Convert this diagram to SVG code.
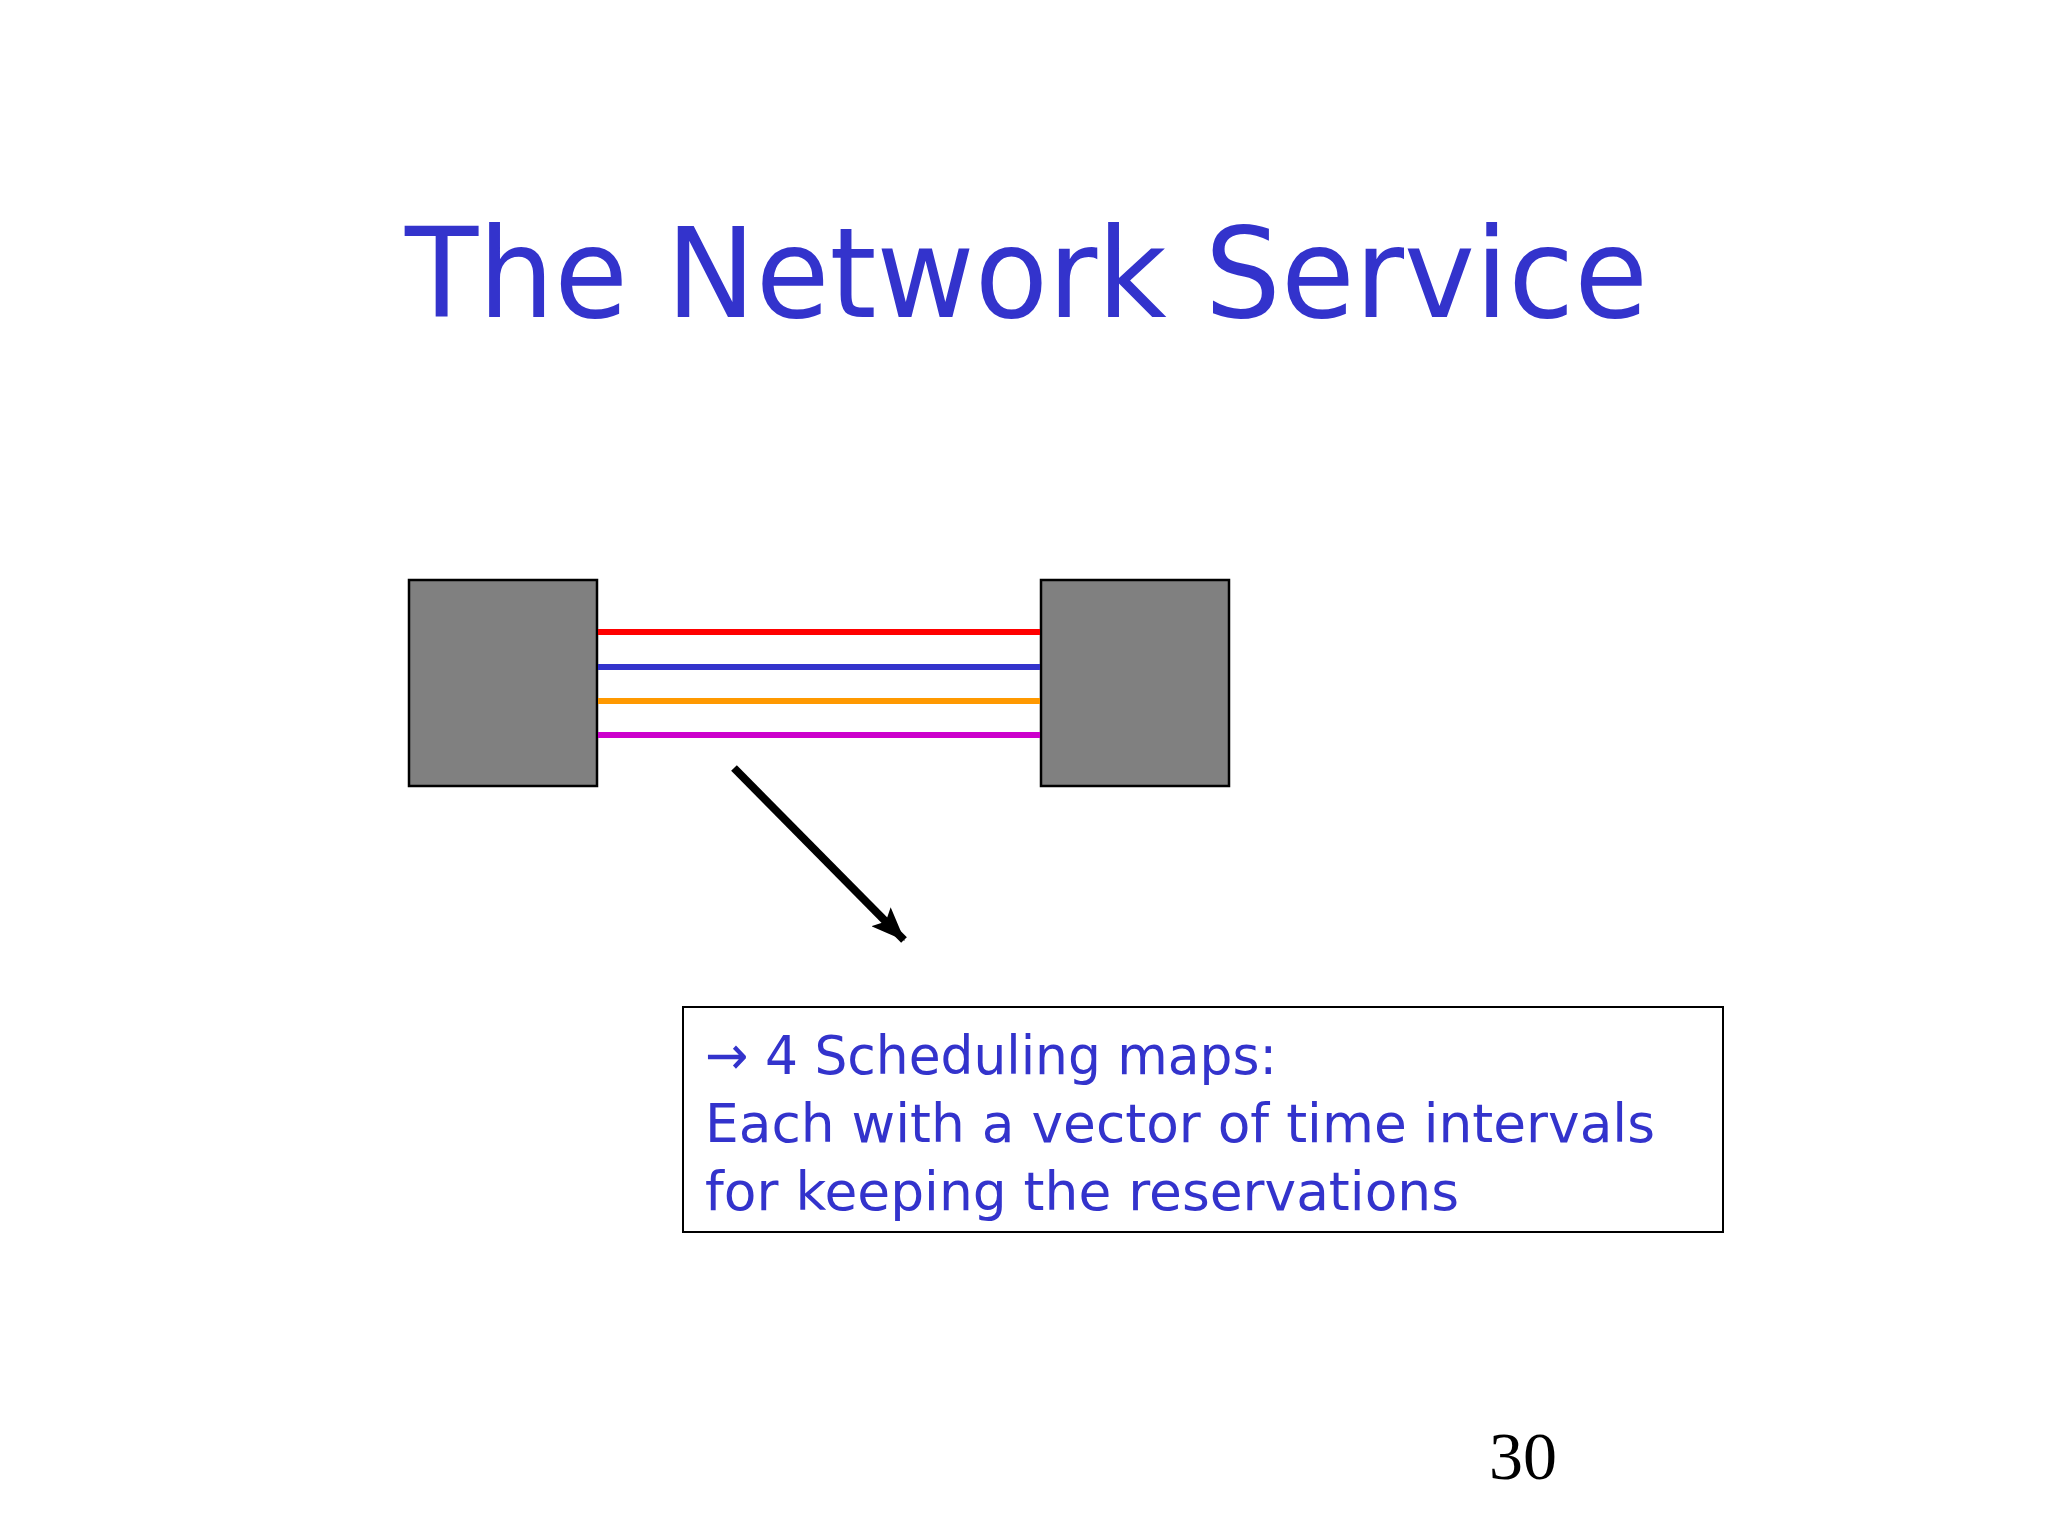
<svg xmlns="http://www.w3.org/2000/svg" width="2048" height="1536" viewBox="0 0 2048 1536">
<style>
.title{font-family:"DejaVu Sans","Liberation Sans",sans-serif;font-size:124px;fill:#3333CC}
.body{font-family:"DejaVu Sans","Liberation Sans",sans-serif;font-size:54px;fill:#3333CC}
.num{font-family:"Liberation Serif",serif;font-size:68px;fill:#000}
.node{fill:#808080;stroke:#000;stroke-width:2.5}
.ch{stroke-width:6;fill:none}
</style>
<defs>
<marker id="ah2" viewBox="0 0 30 24" refX="29" refY="12" markerWidth="34" markerHeight="27" orient="auto" markerUnits="userSpaceOnUse">
<path d="M0,0 L30,12 L0,24 L6,12 z" fill="#000"/>
</marker>
</defs>
<rect width="2048" height="1536" fill="#fff"/>
<text class="title" x="405" y="317" textLength="1243" lengthAdjust="spacingAndGlyphs">The Network Service</text>
<g id="node-left"><rect class="node" x="409" y="580" width="188" height="206"/></g>
<g id="node-right"><rect class="node" x="1041" y="580" width="188" height="206"/></g>
<g id="connectors">
<line class="ch" x1="598" y1="632" x2="1040" y2="632" stroke="#FF0000"/>
<line class="ch" x1="598" y1="667" x2="1040" y2="667" stroke="#3333CC"/>
<line class="ch" x1="598" y1="701" x2="1040" y2="701" stroke="#FF9900"/>
<line class="ch" x1="598" y1="735" x2="1040" y2="735" stroke="#CC00CC"/>
<line x1="734" y1="768" x2="904" y2="940" stroke="#000" stroke-width="8" marker-end="url(#ah2)"/>
</g>
<g id="node-note">
<rect x="683" y="1007" width="1040" height="225" fill="#fff" stroke="#000" stroke-width="2"/>
<text class="body" x="705" y="1074" textLength="572" lengthAdjust="spacingAndGlyphs">→ 4 Scheduling maps:</text>
<text class="body" x="705" y="1142" textLength="950" lengthAdjust="spacingAndGlyphs">Each with a vector of time intervals</text>
<text class="body" x="705" y="1210" textLength="754" lengthAdjust="spacingAndGlyphs">for keeping the reservations</text>
</g>
<text class="num" x="1489" y="1479">30</text>
</svg>
